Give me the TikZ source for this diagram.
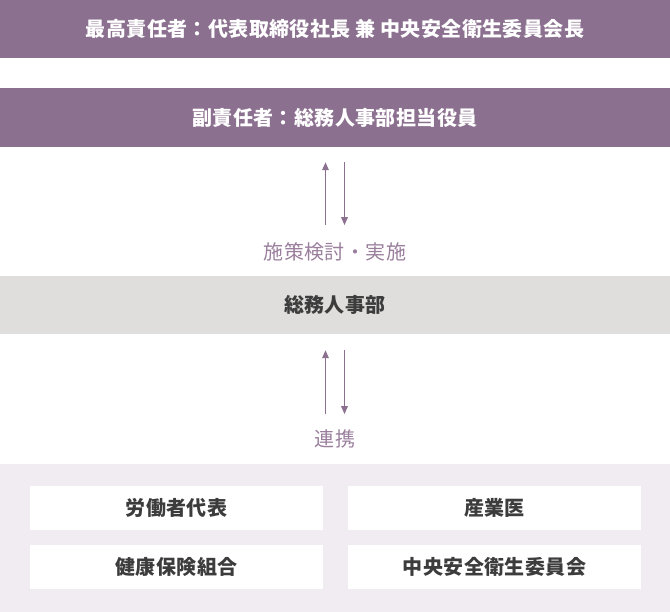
\documentclass[tikz,border=0pt]{standalone}
\usepackage{fontspec}
\usepackage{xcolor}
\usepackage{tikz}
\usetikzlibrary{arrows.meta, positioning, calc}
\newfontfamily\jpfont{Noto Sans CJK JP}[LetterSpace=2]
\definecolor{barpurple}{HTML}{8C7090}
\definecolor{labelpurple}{HTML}{9A7F9D}
\definecolor{bargray}{HTML}{DFDEDD}
\definecolor{panelpurple}{HTML}{F0ECF2}
\definecolor{darktext}{HTML}{3C3C3C}

\begin{document}
\begin{tikzpicture}[
            x=1pt, y=-1pt,
            font=\jpfont\fontsize{20pt}{22pt}\selectfont,
            headbar/.style={rectangle, fill=barpurple, text=white, font=\jpfont\bfseries\fontsize{20pt}{22pt}\selectfont, minimum width=670pt, minimum height=59pt, inner sep=0pt},
            deptbar/.style={rectangle, fill=bargray, text=darktext, font=\jpfont\bfseries\fontsize{20pt}{22pt}\selectfont, minimum width=670pt, minimum height=58pt, inner sep=0pt},
            member/.style={rectangle, fill=white, text=darktext, font=\jpfont\bfseries\fontsize{20pt}{22pt}\selectfont, minimum width=293pt, minimum height=44pt, inner sep=0pt},
            flowlabel/.style={text=labelpurple, inner sep=0pt},
            flow/.style={-{Triangle[length=8pt,width=6.5pt]}, line width=1.5pt, barpurple}
        ]
\useasboundingbox (0,0) rectangle (670,612);

% Officers
            \node[headbar, minimum height=58pt] (chief) at (335,29) {最高責任者：代表取締役社長 兼 中央安全衛生委員会長};
            \node[headbar] (vice) at (335,117.5) {副責任者：総務人事部担当役員};

% Department
            \node[flowlabel] (plan) at (335,252) {施策検討・実施};
            \node[deptbar] (dept) at (335,305) {総務人事部};
            \node[flowlabel] (link) at (335,439) {連携};

% Members
            \node[rectangle, fill=panelpurple, minimum width=670pt, minimum height=148pt, inner sep=0pt] (panel) at (335,538) {};
            \node[member] (labor) at (176.5,508) {労働者代表};
            \node[member] (doctor) at (494.5,508) {産業医};
            \node[member] (union) at (176.5,567) {健康保険組合};
            \node[member] (committee) at (494.5,567) {中央安全衛生委員会};

% Arrows
            \draw[flow] ($(vice.south)+(-9.5,78)$) -- ($(vice.south)+(-9.5,15)$);
            \draw[flow] ($(vice.south)+(9.5,15)$) -- ($(vice.south)+(9.5,78)$);
            \draw[flow] ($(dept.south)+(-9.5,80)$) -- ($(dept.south)+(-9.5,16)$);
            \draw[flow] ($(dept.south)+(9.5,16)$) -- ($(dept.south)+(9.5,80)$);

        \end{tikzpicture}
\end{document}
